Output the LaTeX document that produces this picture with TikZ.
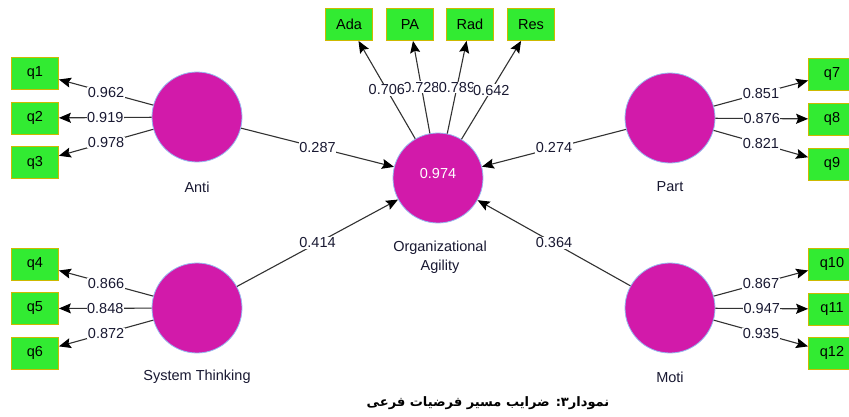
\documentclass[tikz,border=0pt]{standalone}
\usepackage{fontspec}
\setmainfont{Liberation Sans}
\newfontfamily\arabicfont[Script=Arabic]{DejaVu Sans}
\TeXXeTstate=1
\usetikzlibrary{arrows.meta}
\definecolor{lvfill}{RGB}{210,26,170}
\definecolor{lvdraw}{RGB}{150,185,240}
\definecolor{mvfill}{RGB}{50,235,50}
\definecolor{mvdraw}{RGB}{205,185,0}
\definecolor{txt}{RGB}{25,25,50}
\definecolor{edgecol}{RGB}{50,50,50}
\begin{document}
\begin{tikzpicture}[x=1pt,y=-1pt,
  lv/.style={circle,fill=lvfill,draw=lvdraw,line width=0.8pt,minimum size=90pt,inner sep=0pt},
  mv/.style={rectangle,fill=mvfill,draw=mvdraw,line width=0.8pt,minimum width=47pt,minimum height=32pt,inner sep=0pt,font=\fontsize{14.5}{16}\selectfont,text=black},
  lbl/.style={font=\fontsize{14.5}{17}\selectfont,text=txt,align=center},
  coef/.style={fill=white,inner sep=0.6pt,font=\fontsize{14.5}{16}\selectfont,text=txt},
  arr/.style={draw=edgecol,line width=1.1pt,-{Stealth[length=12pt,width=10pt,inset=2pt,color=black]}},
]
\useasboundingbox (0,0) rectangle (849,416);
\clip (0,0) rectangle (849,416);
\fill[white] (0,0) rectangle (849,416);

% latent variables
\node[lv] (anti) at (197,117) {};
\node[lv] (part) at (670,118) {};
\node[lv] (sys) at (197,308) {};
\node[lv] (moti) at (670,308) {};
\node[lv] (org) at (438,178) {};
\node[font=\fontsize{14.5}{16}\selectfont,text=white] (orgval) at (438,174) {0.974};

% latent labels
\node[lbl] (antil) at (197,187) {Anti};
\node[lbl] (partl) at (670,187) {Part};
\node[lbl] (sysl) at (197,377) {System Thinking};
\node[lbl] (motil) at (670,377) {Moti};
\node[lbl] (orgl1) at (440,248) {Organizational};
\node[lbl] (orgl2) at (440,267) {Agility};

% indicators
\node[mv] (q1) at (35,73) {q1};
\node[mv] (q2) at (35,118) {q2};
\node[mv] (q3) at (35,162.5) {q3};
\node[mv] (q4) at (35,264) {q4};
\node[mv] (q5) at (35,308.5) {q5};
\node[mv] (q6) at (35,353) {q6};
\node[mv] (q7) at (832,74) {q7};
\node[mv] (q8) at (832,119) {q8};
\node[mv] (q9) at (832,164) {q9};
\node[mv] (q10) at (832,264) {q10};
\node[mv] (q11) at (832,309) {q11};
\node[mv] (q12) at (832,353) {q12};
\node[mv] (ada) at (349,24.5) {Ada};
\node[mv] (pa) at (410,24.5) {PA};
\node[mv] (rad) at (470,24.5) {Rad};
\node[mv] (res) at (531,24.5) {Res};

% outer loadings
\draw[arr] (anti) -- node[coef] {0.962} (q1);
\draw[arr] (anti) -- node[coef] {0.919} (q2);
\draw[arr] (anti) -- node[coef] {0.978} (q3);
\draw[arr] (sys) -- node[coef] {0.866} (q4);
\draw[arr] (sys) -- node[coef] {0.848} (q5);
\draw[arr] (sys) -- node[coef] {0.872} (q6);
\draw[arr] (part) -- node[coef] {0.851} (q7);
\draw[arr] (part) -- node[coef] {0.876} (q8);
\draw[arr] (part) -- node[coef] {0.821} (q9);
\draw[arr] (moti) -- node[coef] {0.867} (q10);
\draw[arr] (moti) -- node[coef] {0.947} (q11);
\draw[arr] (moti) -- node[coef] {0.935} (q12);
\draw[arr] (org) -- node[coef] {0.728} (pa);
\draw[arr] (org) -- node[coef] {0.789} (rad);
\draw[arr] (org) -- node[coef] {0.706} (ada);
\draw[arr] (org) -- node[coef] {0.642} (res);

% path coefficients
\draw[arr] (anti) -- node[coef] {0.287} (org);
\draw[arr] (part) -- node[coef] {0.274} (org);
\draw[arr] (sys) -- node[coef] {0.414} (org);
\draw[arr] (moti) -- node[coef] {0.364} (org);

% caption
\node (cap) at (488,403) {\arabicfont\bfseries\fontsize{13}{15}\selectfont\beginR نمودار۳: ضرایب مسیر فرضیات فرعی\endR};
\end{tikzpicture}
\end{document}
